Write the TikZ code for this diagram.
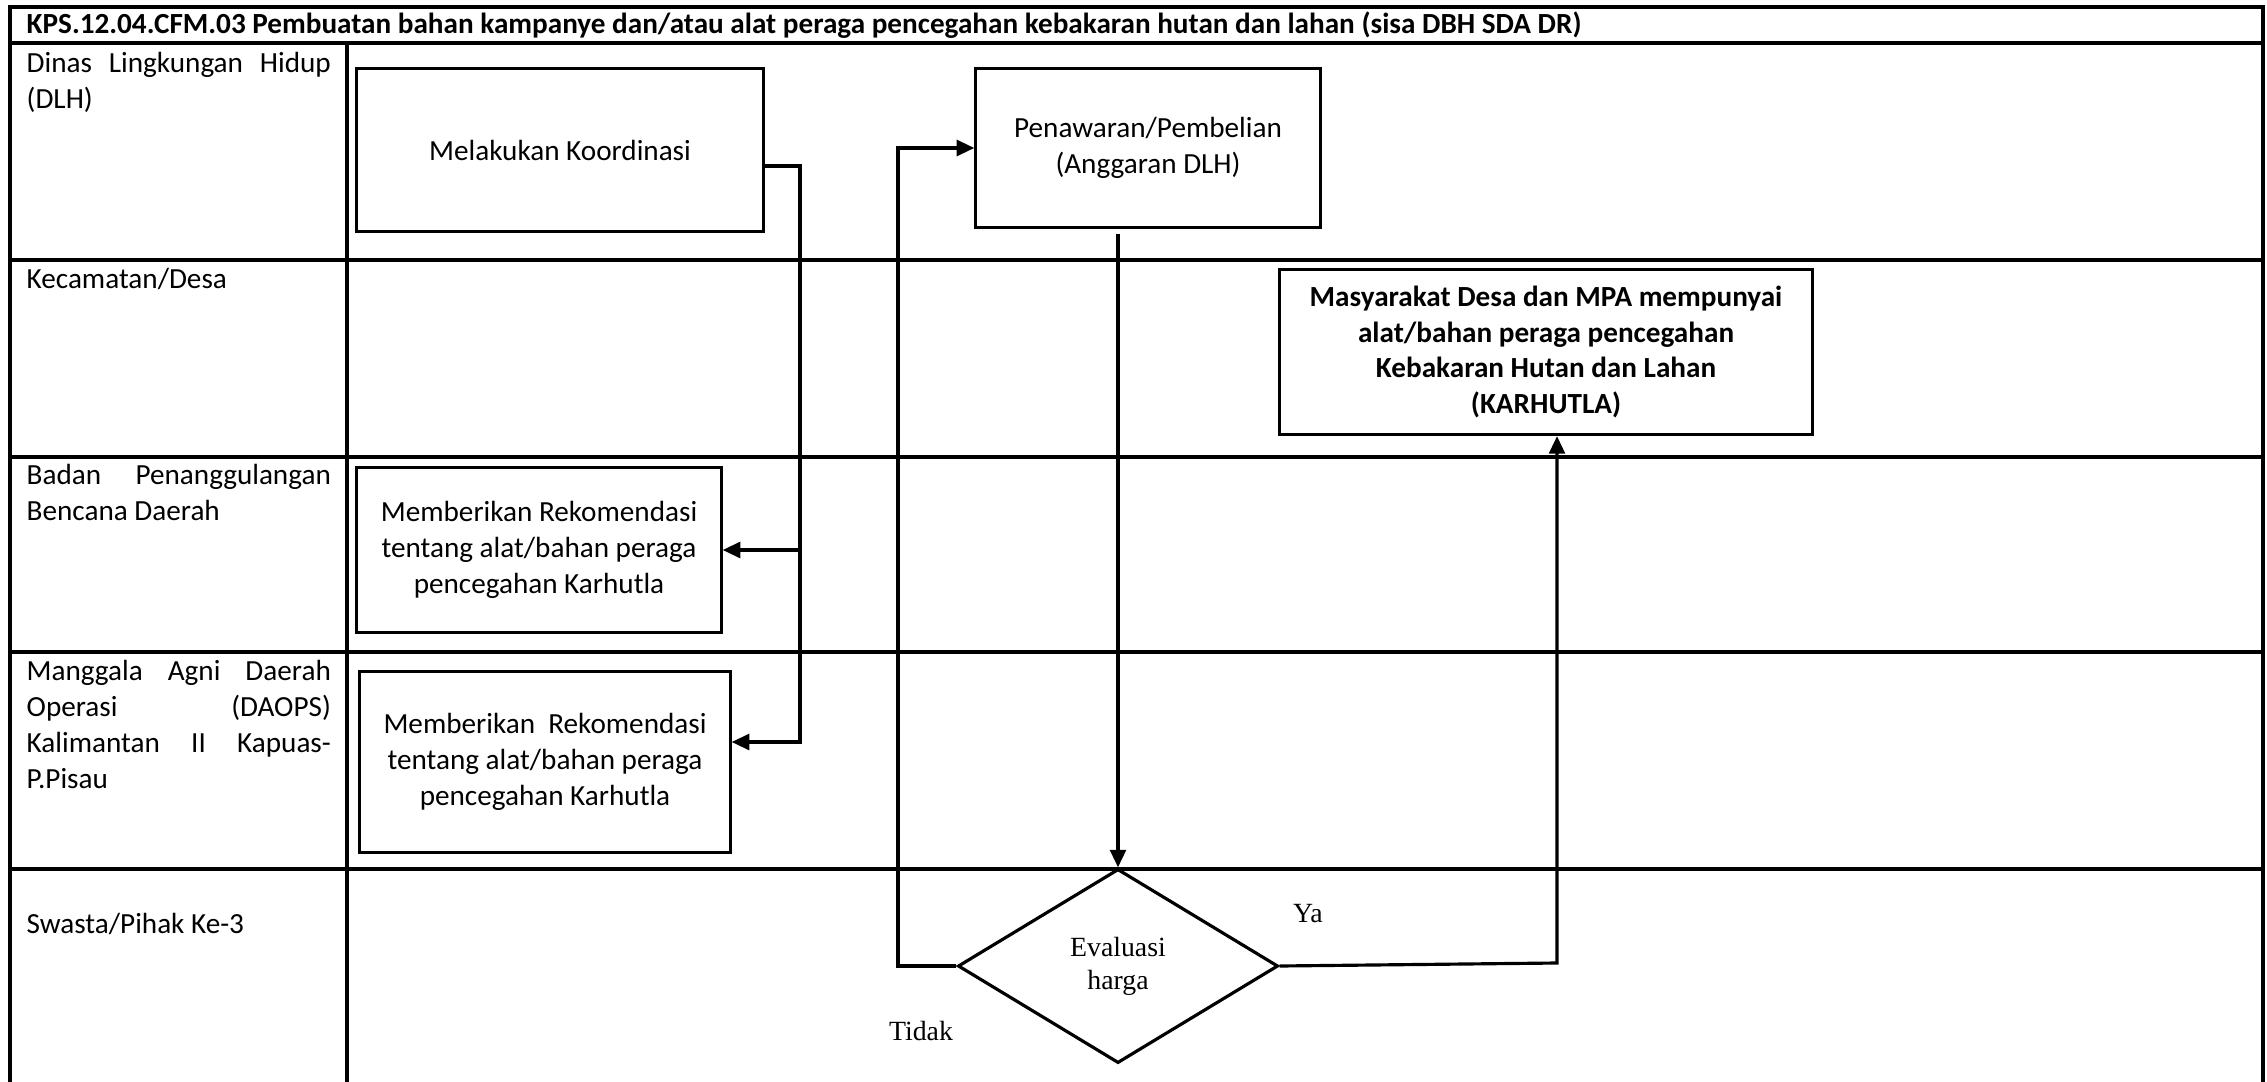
\documentclass[tikz,border=0pt]{standalone}
\usepackage{fontspec}
\setmainfont{Carlito}
\newfontfamily\evalfont{Liberation Serif}
\usetikzlibrary{arrows.meta, shapes.geometric}

\begin{document}
\begin{tikzpicture}[x=0.01cm, y=-0.01cm,
    lane/.style={line width=1.1pt},
    lanetext/.style={anchor=north west, text width=3.04cm, align=flush left, inner sep=0pt, font=\fontsize{8.3}{10.2}\selectfont},
    box/.style={draw, line width=0.9pt, align=center, inner sep=0pt, font=\fontsize{8.3}{10.2}\selectfont},
    flow/.style={line width=0.9pt},
    flowarrow/.style={flow, -{Triangle[length=5pt, width=4.5pt]}},
    serif/.style={inner sep=0pt, align=center, font=\evalfont\fontsize{7.9}{9.4}\selectfont}]
  \useasboundingbox (0,0) rectangle (2267,1082);

  % lanes
  \draw[lane] (10,1082) -- (10,7) -- (2263,7) -- (2263,1082);
  \foreach \y in {43,260,457,652,869}
    \draw[lane] (10,\y) -- (2263,\y);
  \draw[lane] (347,43) -- (347,1082);
  \node[anchor=west, inner sep=0pt, font=\bfseries\fontsize{8.3}{10.2}\selectfont] (title) at (26,25)
    {KPS.12.04.CFM.03 Pembuatan bahan kampanye dan/atau alat peraga pencegahan kebakaran hutan dan lahan (sisa DBH SDA DR)};

  \node[lanetext] (dlh) at (26,52) {Dinas\hfill Lingkungan\hfill Hidup\\(DLH)};
  \node[lanetext] (desa) at (26,268) {Kecamatan/Desa};
  \node[lanetext] (bpbdlane) at (26,464) {Badan\hfill Penanggulangan\\Bencana Daerah};
  \node[lanetext] (daopslane) at (26,660) {Manggala\hfill Agni\hfill Daerah\\Operasi\hfill (DAOPS)\\Kalimantan\hfill II\hfill Kapuas-\\P.Pisau};
  \node[lanetext] (swasta) at (26,913) {Swasta/Pihak Ke-3};

  % boxes
  \node[box, minimum width=4.06cm, minimum height=1.63cm] (koord) at (560,150) {Melakukan Koordinasi};
  \node[box, minimum width=3.44cm, minimum height=1.59cm] (tawar) at (1148,148) {Penawaran/Pembelian\\(Anggaran DLH)};
  \node[box, font=\bfseries\fontsize{8.3}{10.2}\selectfont, minimum width=5.32cm, minimum height=1.65cm] (hasil) at (1546,352)
    {Masyarakat Desa dan MPA mempunyai\\alat/bahan peraga pencegahan\\Kebakaran Hutan dan Lahan\\(KARHUTLA)};
  \node[box, minimum width=3.64cm, minimum height=1.65cm] (bpbd) at (539,550)
    {Memberikan Rekomendasi\\tentang alat/bahan peraga\\pencegahan Karhutla};
  \node[box, minimum width=3.70cm, minimum height=1.81cm] (daops) at (545,762)
    {Memberikan\ \ Rekomendasi\\tentang alat/bahan peraga\\pencegahan Karhutla};
  \node[diamond, draw, line width=0.9pt, aspect=1.65, minimum width=3.2cm, minimum height=1.94cm, serif] (eval) at (1118,966) {Evaluasi\\harga};

  \node[serif] (ya) at (1308,914) {Ya};
  \node[serif] (tidak) at (921,1031) {Tidak};

  % connectors
  \coordinate (split) at (800,166);
  \coordinate (todaops) at (800,742);
  \coordinate (down) at (1118,234);
  \coordinate (back) at (898,966);
  \coordinate (up) at (1557,963);

  \draw[flowarrow] (koord.east |- split) -- (split) -- (todaops) -- (daops.east |- todaops);
  \draw[flowarrow] (split |- bpbd.east) -- (bpbd.east);
  \draw[flowarrow] (down) -- (eval.north);
  \draw[flowarrow] (eval.west) -- (back) |- (tawar.west);
  \draw[flowarrow] (eval.east) -- (up) -- (up |- hasil.south);
\end{tikzpicture}
\end{document}
